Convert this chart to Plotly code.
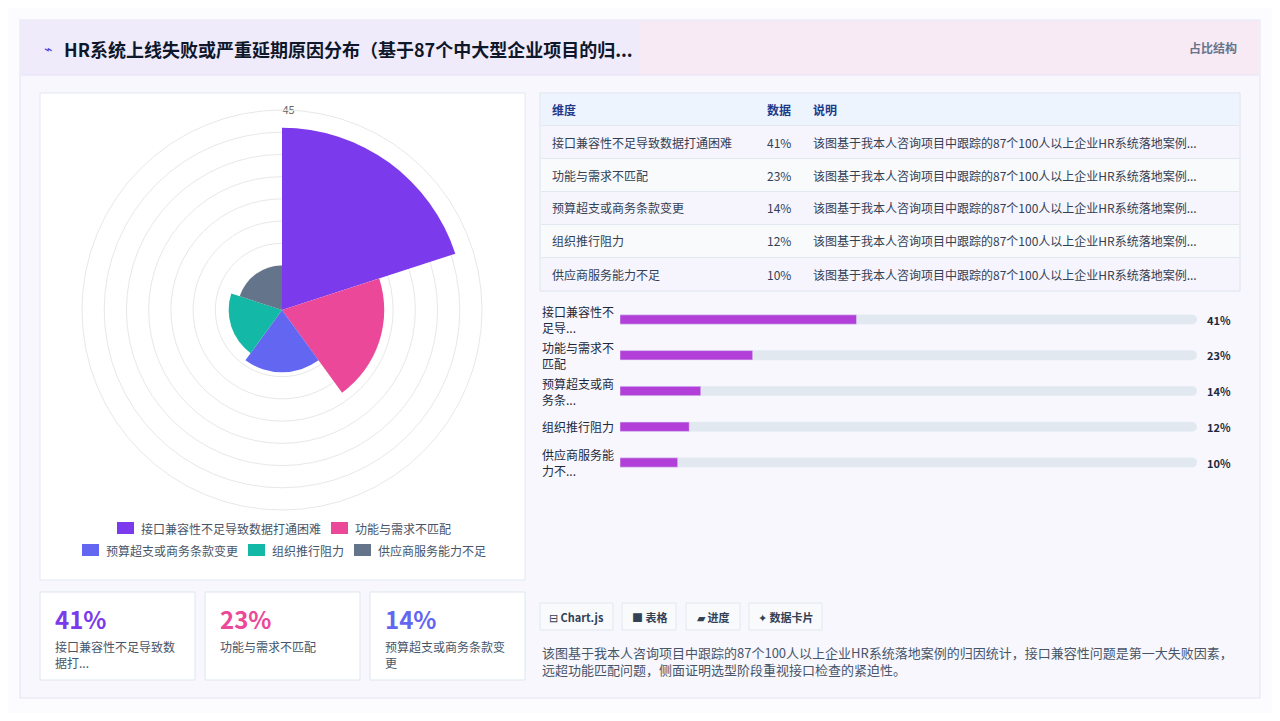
import plotly.graph_objects as go

# data
categories = ["接口兼容性不足导致数据打通困难", "功能与需求不匹配", "预算超支或商务条款变更", "组织推行阻力", "供应商服务能力不足"]
short_labels = ["接口兼容性不<br>足导...", "功能与需求不<br>匹配", "预算超支或商<br>务条...", "组织推行阻力", "供应商服务能<br>力不..."]
values = [41, 23, 14, 12, 10]
colors = ["#7c3aed", "#ec4899", "#6366f1", "#14b8a6", "#64748b"]
note = "该图基于我本人咨询项目中跟踪的87个100人以上企业HR系统落地案例..."
radial_ticks = [5, 10, 15, 20, 25, 30, 35, 40, 45]

W, H = 1264, 705
OFF = 8
FONT = "Noto Sans CJK SC"


def px(x):
    return (x - OFF) / W


def py(y):
    return 1 - (y - OFF) / H


def note_ann(text, x, y, size=12, color="#334155", xanchor="left", yref="paper", **kw):
    return dict(text=text, x=x, y=y, xref="paper", yref=yref, showarrow=False, xanchor=xanchor,
                yanchor=kw.pop("yanchor", "middle"), font=dict(size=size, color=color, family=FONT), **kw)


fig = go.Figure()

# polar area chart
fig.add_trace(go.Barpolar(
    r=values,
    theta=[36 + 72 * i for i in range(len(values))],
    width=[72] * len(values),
    marker=dict(color=colors, line=dict(width=0)),
    showlegend=False,
    hoverinfo="skip",
))

# progress bars (track + value)
fig.add_trace(go.Bar(
    x=[100] * len(values), y=categories, orientation="h",
    marker=dict(color="#e2e8f0", cornerradius=5), width=0.26,
    xaxis="x", yaxis="y", showlegend=False, hoverinfo="skip",
))
fig.add_trace(go.Bar(
    x=values, y=categories, orientation="h",
    marker=dict(color="#b13fd8", cornerradius=5), width=0.26,
    xaxis="x", yaxis="y", showlegend=False, hoverinfo="skip",
))

shapes = []
annotations = []


def rect(x0, x1, y0, y1, fill, line=None, layer="below"):
    shapes.append(dict(type="rect", xref="paper", yref="paper", x0=px(x0), x1=px(x1), y0=py(y1), y1=py(y0),
                       fillcolor=fill, line=line or dict(width=0), layer=layer))


# outer card + header
rect(20, 1260, 20, 698, "#f8f7fe", dict(color="#e4e2f3", width=1))
rect(21, 640, 21, 75, "#f0ebfb")
rect(640, 1259, 21, 75, "#f8eaf5")
shapes.append(dict(type="line", xref="paper", yref="paper", x0=px(21), x1=px(1259), y0=py(75), y1=py(75),
                   line=dict(color="#e6e1f3", width=1)))
annotations.append(note_ann("⌁", px(42), py(48), size=14, color="#4f46e5"))
annotations.append(note_ann("<b>HR系统上线失败或严重延期原因分布（基于87个中大型企业项目的归...</b>", px(62), py(49),
                            size=18, color="#0f172a"))
annotations.append(note_ann("<b>占比结构</b>", px(1239), py(48), color="#64748b", xanchor="right"))

# left chart panel
rect(40, 525, 93, 580, "white", dict(color="#e2e8f0", width=1))

# legend
legend_rows = [[(0, 117), (1, 331)], [(2, 82), (3, 248), (4, 354)]]
for row_i, row in enumerate(legend_rows):
    yy = 528 + row_i * 22
    for idx, x0 in row:
        rect(x0, x0 + 17, yy - 6, yy + 6, colors[idx], layer="above")
        annotations.append(note_ann(categories[idx], px(x0 + 22), py(yy), color="#475569"))

# table
rect(540, 1240, 93, 291, "#f8fafc", dict(color="#dbe3ee", width=1))
rect(541, 1239, 94, 126, "#eef4fe")
cols_x = [550, 765, 811]
for j, head in enumerate(["维度", "数据", "说明"]):
    annotations.append(note_ann("<b>%s</b>" % head, px(cols_x[j]), py(110), color="#1e3a8a"))
for i, cat in enumerate(categories):
    yc = 142 + 33 * i
    if i % 2 == 0:
        rect(541, 1239, yc - 16, yc + 16, "#f6f4fd")
    shapes.append(dict(type="line", xref="paper", yref="paper", x0=px(541), x1=px(1239), y0=py(yc - 16.5),
                       y1=py(yc - 16.5), line=dict(color="#e2e8f0", width=1)))
    for j, txt in enumerate([cat, "%d%%" % values[i], note]):
        annotations.append(note_ann(txt, px(cols_x[j]), py(yc)))

# progress labels
for i, lab in enumerate(short_labels):
    annotations.append(note_ann(lab, px(540), categories[i], color="#1e293b", yref="y", align="left"))
    annotations.append(note_ann("<b>%d%%</b>" % values[i], px(1205), categories[i], size=11, color="#1e293b",
                                yref="y"))

# KPI cards
kpi_labels = ["接口兼容性不足导致数<br>据打...", "功能与需求不匹配", "预算超支或商务条款变<br>更"]
for k, x0 in enumerate([40, 205, 370]):
    rect(x0, x0 + 155, 592, 680, "white", dict(color="#dde6f0", width=1))
    annotations.append(note_ann("<b>%d%%</b>" % values[k], px(x0 + 13), py(618), size=24, color=colors[k]))
    annotations.append(note_ann(kpi_labels[k], px(x0 + 13), py(636), color="#475569", yanchor="top", align="left"))

# tag chips
for txt, x0, x1 in [("⊟ <b>Chart.js</b>", 540, 613), ("■ <b>表格</b>", 622, 676), ("▰ <b>进度</b>", 686, 740),
                    ("✦ <b>数据卡片</b>", 749, 822)]:
    rect(x0, x1, 603, 630, "#f8fafc", dict(color="#e2e8f0", width=1))
    annotations.append(note_ann(txt, px((x0 + x1) / 2), py(617), size=11, xanchor="center"))
annotations.append(note_ann("该图基于我本人咨询项目中跟踪的87个100人以上企业HR系统落地案例的归因统计，接口兼容性问题是第一大失败因素，<br>"
                            "远超功能匹配问题，侧面证明选型阶段重视接口检查的紧迫性。",
                            px(540), py(661), size=13, color="#475569", align="left"))

fig.update_layout(
    width=W, height=H,
    margin=dict(l=0, r=0, t=0, b=0),
    paper_bgcolor="#fcfcff",
    plot_bgcolor="rgba(0,0,0,0)",
    font=dict(family=FONT),
    shapes=shapes,
    annotations=annotations,
    barmode="overlay",
    polar=dict(
        domain=dict(x=[px(82), px(482)], y=[py(510), py(110)]),
        bgcolor="white",
        radialaxis=dict(range=[0, 45], tickvals=radial_ticks, angle=90, tickangle=90, showline=False,
                        gridcolor="#e8e8e8", tickfont=dict(size=11, color="#666"), layer="below traces"),
        angularaxis=dict(rotation=90, direction="clockwise", showticklabels=False, ticks="",
                         showgrid=False, showline=True, linecolor="#e8e8e8"),
    ),
    xaxis=dict(domain=[px(620), px(1197)], range=[0, 100], visible=False, fixedrange=True),
    yaxis=dict(domain=[py(481), py(301)], autorange="reversed", visible=False, fixedrange=True),
)

fig.write_html("out.html")
